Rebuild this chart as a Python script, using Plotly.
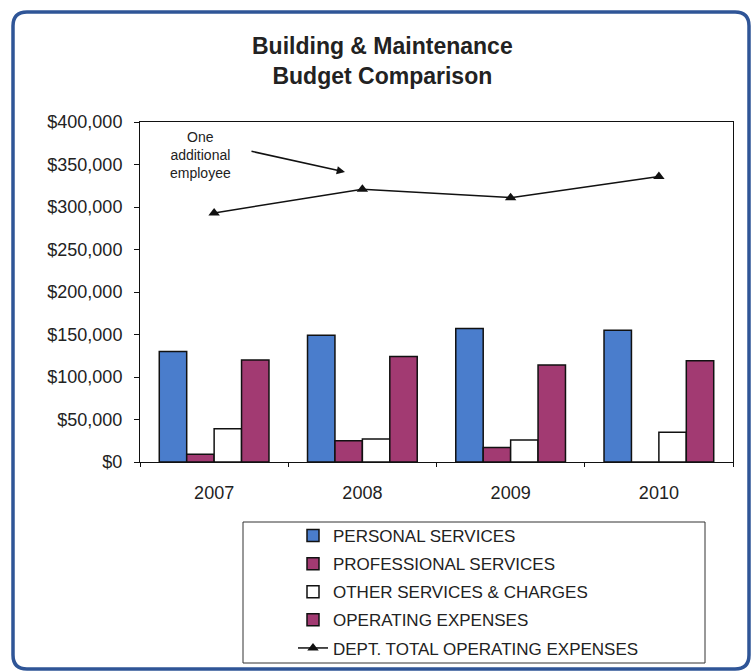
import plotly.graph_objects as go

# Budget figures by fiscal year
years = ["2007", "2008", "2009", "2010"]
personal_services = [130000, 149000, 157000, 155000]
professional_services = [9000, 25000, 17000, 0]
other_services = [39000, 27000, 26000, 35000]
operating_expenses = [120000, 124000, 114000, 119000]
dept_total = [293000, 321000, 311000, 336000]

y_ticks = [0, 50000, 100000, 150000, 200000, 250000, 300000, 350000, 400000]
y_tick_labels = ["$0", "$50,000", "$100,000", "$150,000", "$200,000",
                 "$250,000", "$300,000", "$350,000", "$400,000"]

W, H = 752, 671
L, R, T, B = 140, 19, 122, 209
PW, PH = W - L - R, H - T - B


def px(x):
    return (x - L) / PW


def py(y):
    return (H - B - y) / PH


FONT = "Liberation Sans, Arial, sans-serif"
BLUE = "#4a7dcc"
PLUM = "#a23a72"

fig = go.Figure()

bar_specs = [
    ("PERSONAL SERVICES", personal_services, BLUE),
    ("PROFESSIONAL SERVICES", professional_services, PLUM),
    ("OTHER SERVICES & CHARGES", other_services, "#ffffff"),
    ("OPERATING EXPENSES", operating_expenses, PLUM),
]
for i, (name, vals, color) in enumerate(bar_specs):
    fig.add_trace(go.Bar(
        x=years, y=vals, name=name, legendgroup=f"g{i}",
        marker=dict(color=color, line=dict(color="#111111", width=1.5)),
    ))

fig.add_trace(go.Scatter(
    x=years, y=dept_total, name="DEPT. TOTAL OPERATING EXPENSES",
    legendgroup="g4", mode="lines+markers",
    line=dict(color="#111111", width=1.5),
    marker=dict(symbol="triangle-up", size=10, color="#111111"),
))

# Callout for the 2008 staffing change
fig.add_annotation(
    x=px(200), y=py(155), xref="paper", yref="paper",
    xanchor="center", yanchor="middle",
    text="One<br>additional<br>employee", showarrow=False,
    font=dict(family=FONT, size=14, color="#222222"), align="center",
)
fig.add_annotation(
    x=px(345), y=py(172), xref="paper", yref="paper",
    ax=-95, ay=-21, text="", showarrow=True,
    arrowhead=2, arrowsize=1.1, arrowwidth=1.5, arrowcolor="#111111",
)

# Title
fig.add_annotation(
    x=px(382), y=py(61), xref="paper", yref="paper",
    xanchor="center", yanchor="middle",
    text="<b>Building & Maintenance<br>Budget Comparison</b>",
    showarrow=False, font=dict(family=FONT, size=23, color="#222222"),
    align="center",
)

# Legend frame
fig.add_shape(type="rect", xref="paper", yref="paper",
              x0=px(243), x1=px(705), y0=py(663), y1=py(522),
              line=dict(color="#333333", width=1), fillcolor="rgba(0,0,0,0)")

# Rounded outer border
x0, x1, y0, y1, r = 13, 749, 12, 669, 14
path = (
    f"M {px(x0)},{py(y0 + r)} Q {px(x0)},{py(y0)} {px(x0 + r)},{py(y0)} "
    f"L {px(x1 - r)},{py(y0)} Q {px(x1)},{py(y0)} {px(x1)},{py(y0 + r)} "
    f"L {px(x1)},{py(y1 - r)} Q {px(x1)},{py(y1)} {px(x1 - r)},{py(y1)} "
    f"L {px(x0 + r)},{py(y1)} Q {px(x0)},{py(y1)} {px(x0)},{py(y1 - r)} Z"
)
fig.add_shape(type="path", path=path, xref="paper", yref="paper",
              line=dict(color="#2f5597", width=3.5))

fig.update_layout(
    width=W, height=H,
    margin=dict(l=L, r=R, t=T, b=B, autoexpand=False),
    paper_bgcolor="white", plot_bgcolor="white",
    barmode="group", bargap=0.26, bargroupgap=0,
    font=dict(family=FONT, color="#222222"),
    showlegend=True,
    legend=dict(
        x=px(293), y=py(518), xanchor="left", yanchor="top",
        bgcolor="rgba(0,0,0,0)", borderwidth=0,
        font=dict(family=FONT, size=17, color="#222222"),
        traceorder="grouped", tracegroupgap=3,
    ),
    xaxis=dict(
        showline=True, linecolor="#111111", linewidth=1, mirror=True,
        ticks="outside", tickson="boundaries", ticklen=4, tickcolor="#111111",
        tickfont=dict(family=FONT, size=18, color="#222222"),
        ticklabelstandoff=14,
        showgrid=False,
    ),
    yaxis=dict(
        range=[0, 400000], tickvals=y_ticks, ticktext=y_tick_labels,
        showline=True, linecolor="#111111", linewidth=1, mirror=True,
        ticks="outside", ticklen=5, tickcolor="#111111",
        tickfont=dict(family=FONT, size=18, color="#222222"),
        ticklabelstandoff=8,
        showgrid=False, zeroline=False,
    ),
)

fig.write_html("out.html")
